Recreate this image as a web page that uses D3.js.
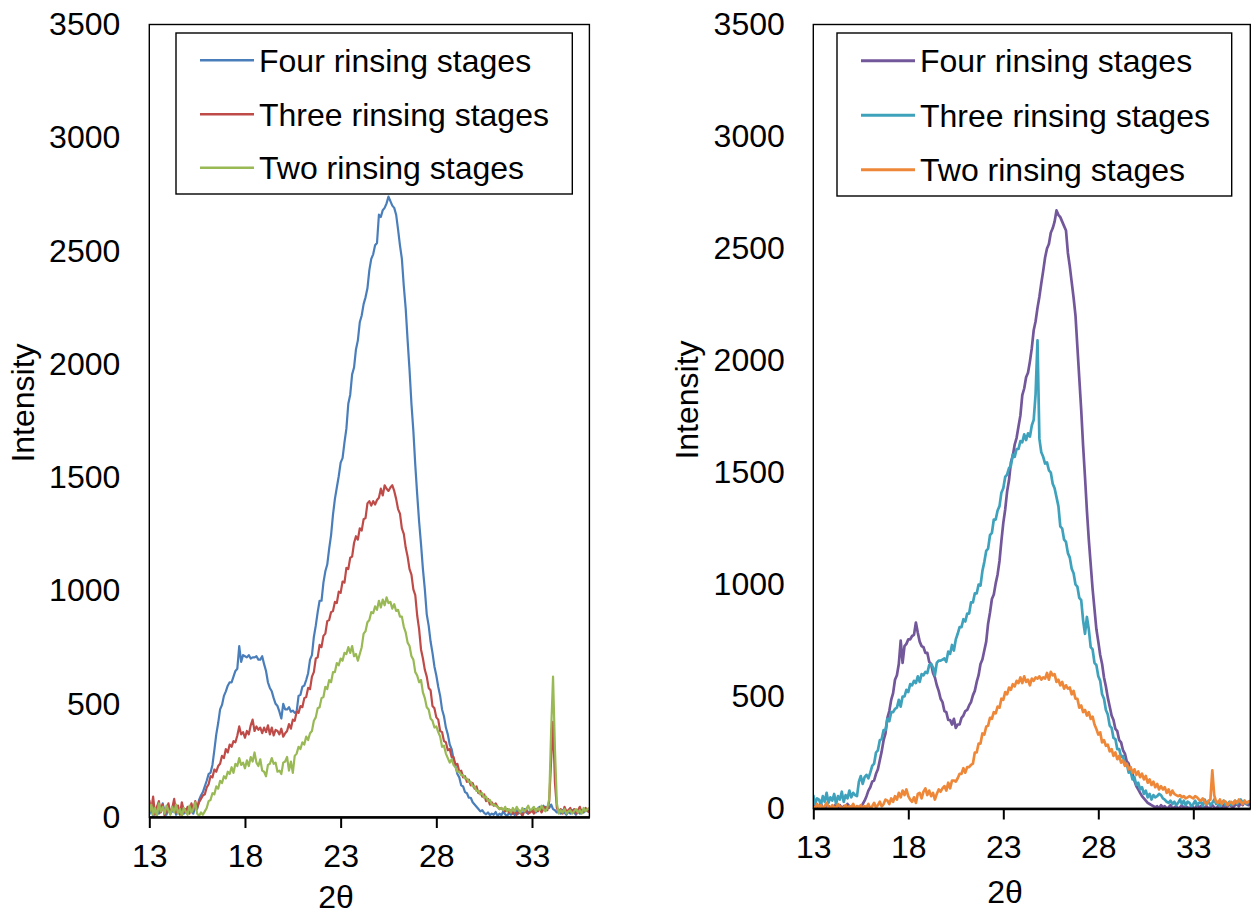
<!DOCTYPE html>
<html>
<head>
<meta charset="utf-8">
<script src="https://cdn.jsdelivr.net/npm/d3@7"></script>
<style>
  html, body { margin: 0; padding: 0; background: #fff; }
  svg { display: block; }
  text { font-family: "Liberation Sans", Arial, sans-serif; fill: #000; }
</style>
</head>
<body>
<svg id="chart" width="1252" height="915"></svg>
<script>
// Diffraction scans sampled every 0.1° of 2θ, from 13° to 36°
const thetaStart = 13;
const thetaStep = 0.1;

const xTicks = [13, 18, 23, 28, 33];
const yTicks = [0, 500, 1000, 1500, 2000, 2500, 3000, 3500];
const seriesNames = ["Four rinsing stages", "Three rinsing stages", "Two rinsing stages"];

// Left panel
const leftFour = [
  10, 35, 5, 20, 45, 15, 30, 60, 20, 10,
  40, 15, 25, 55, 10, 30, 20, 45, 15, 35,
  20, 40, 30, 15, 45, 35, 75, 95, 110, 135,
  160, 190, 195, 230, 295, 365, 415, 475, 495, 535,
  555, 580, 595, 595, 620, 645, 655, 755, 685, 715,
  710, 705, 715, 700, 705, 705, 710, 695, 695, 710,
  675, 645, 595, 570, 555, 525, 500, 490, 465, 435,
  500, 475, 475, 485, 465, 470, 460, 465, 535, 540,
  575, 580, 605, 635, 695, 715, 795, 845, 905, 955,
  955, 1035, 1085, 1115, 1185, 1245, 1335, 1405, 1455, 1505,
  1565, 1585, 1655, 1715, 1825, 1865, 1955, 1985, 2065, 2105,
  2185, 2215, 2265, 2295, 2335, 2415, 2465, 2485, 2525, 2535,
  2660, 2650, 2680, 2690, 2710, 2740, 2720, 2700, 2690, 2660,
  2595, 2525, 2465, 2345, 2245, 2105, 1975, 1825, 1705, 1555,
  1425, 1305, 1205, 1095, 1005, 895, 845, 775, 725, 665,
  625, 575, 535, 475, 445, 395, 365, 320, 300, 255,
  225, 190, 175, 140, 135, 110, 105, 85, 85, 65,
  55, 45, 35, 25, 30, 18, 12, 20, 8, 15,
  10, 22, 5, 15, 8, 25, 12, 5, 18, 10,
  20, 8, 30, 15, 25, 10, 35, 20, 15, 30,
  25, 40, 20, 35, 45, 30, 50, 35, 45, 40,
  55, 35, 30, 20, 25, 15, 30, 20, 10, 25,
  15, 30, 20, 10, 25, 15, 30, 20, 35, 25,
  30
];
const leftThree = [
  75, 30, 90, 10, 45, 70, 20, 55, 5, 35,
  60, 15, 40, 80, 20, 50, 10, 65, 30, 20,
  45, 15, 60, 30, 70, 40, 65, 80, 95, 100,
  130, 145, 180, 175, 210, 200, 225, 235, 270, 260,
  300, 285, 320, 310, 335, 330, 360, 400, 365, 375,
  350, 380, 365, 405, 430, 380, 400, 385, 395, 370,
  395, 375, 405, 365, 395, 360, 385, 380, 365, 390,
  355, 370, 380, 410, 390, 430, 425, 465, 460, 490,
  485, 525, 530, 570, 565, 620, 640, 700, 705, 760,
  750, 800, 810, 865, 870, 905, 910, 950, 945, 995,
  990, 1040, 1035, 1100, 1095, 1145, 1150, 1210, 1240, 1225,
  1275, 1265, 1315, 1320, 1385, 1395, 1375, 1395, 1380, 1400,
  1410, 1450, 1420, 1465, 1450, 1440, 1455, 1465, 1440, 1405,
  1360, 1340, 1275, 1250, 1190, 1150, 1095, 1070, 1005, 980,
  890, 830, 740, 700, 650, 620, 570, 560, 490, 480,
  440, 430, 380, 375, 335, 330, 295, 300, 265, 265,
  230, 235, 200, 205, 175, 180, 155, 165, 140, 150,
  125, 135, 105, 115, 90, 100, 70, 80, 55, 65,
  50, 60, 45, 35, 40, 30, 25, 35, 20, 30,
  15, 25, 10, 30, 20, 5, 25, 35, 15, 20,
  30, 15, 35, 25, 40, 20, 35, 45, 30, 70,
  250, 420, 150, 40, 20, 35, 15, 45, 25, 30,
  40, 20, 35, 15, 30, 45, 20, 25, 40, 30,
  20
];
const leftTwo = [
  20, 55, 10, 40, 5, 60, 25, 45, 15, 50,
  30, 10, 45, 20, 55, 15, 35, 5, 40, 25,
  10, 50, 20, 35, 65, 15, 5, 20, 10, 25,
  40, 70, 75, 105, 100, 135, 125, 160, 150, 180,
  170, 200, 190, 220, 195, 235, 225, 260, 230, 240,
  215, 250, 225, 265, 245, 285, 240, 225, 255, 205,
  200, 180, 230, 235, 260, 235, 240, 200, 205, 190,
  240, 245, 265, 205, 245, 195, 270, 280, 310, 300,
  330, 320, 355, 340, 370, 380, 425, 440, 480, 485,
  525, 530, 575, 565, 605, 595, 640, 640, 680, 670,
  700, 690, 725, 720, 750, 725, 755, 710, 720, 690,
  720, 750, 810, 820, 860, 870, 905, 900, 930, 915,
  955, 925, 960, 935, 970, 945, 950, 920, 940, 910,
  915, 885, 885, 840, 815, 770, 755, 710, 695, 640,
  625, 595, 605, 550, 525, 485, 475, 435, 425, 395,
  400, 375, 355, 310, 315, 280, 260, 240, 255, 230,
  220, 200, 200, 185, 185, 170, 170, 155, 155, 135,
  135, 115, 115, 100, 105, 85, 90, 70, 75, 55,
  55, 50, 45, 35, 40, 30, 45, 25, 35, 20,
  40, 25, 45, 30, 20, 40, 25, 35, 50, 30,
  35, 45, 25, 40, 30, 50, 35, 25, 40, 80,
  380, 620, 300, 60, 15, 30, 20, 35, 15, 25,
  30, 15, 25, 35, 20, 30, 15, 40, 25, 35,
  40
];

// Right panel
const rightFour = [
  5, 15, 0, 10, 20, 5, 0, 15, 10, 5,
  0, 10, 20, 5, 15, 0, 10, 5, 20, 10,
  5, 15, 0, 10, 5, 0, 20, 35, 55, 80,
  95, 120, 125, 155, 175, 215, 255, 305, 335, 405,
  435, 485, 515, 575, 595, 645, 750, 650, 725, 735,
  755, 755, 770, 775, 830, 785, 745, 725, 720, 695,
  695, 655, 645, 605, 585, 550, 525, 490, 475, 435,
  430, 395, 395, 375, 400, 360, 375, 375, 405, 415,
  435, 440, 460, 475, 505, 525, 565, 595, 645, 665,
  705, 745, 825, 875, 935, 955, 1005, 1045, 1105, 1195,
  1275, 1335, 1415, 1465, 1545, 1575, 1625, 1655, 1705, 1755,
  1845, 1875, 1925, 1945, 1995, 2055, 2135, 2175, 2235, 2285,
  2345, 2400, 2460, 2500, 2520, 2570, 2590, 2620, 2670, 2650,
  2640, 2620, 2600, 2580, 2480, 2420, 2350, 2280, 2200, 2060,
  1920, 1780, 1620, 1480, 1330, 1200, 1090, 980, 890, 800,
  745, 685, 645, 585, 545, 495, 455, 415, 395, 355,
  345, 305, 295, 260, 245, 210, 200, 165, 155, 125,
  100, 85, 70, 55, 45, 35, 25, 20, 15, 10,
  5, 10, 0, 15, 5, 10, 0, 5, 15, 0,
  5, 10, 0, 5, 15, 0, 10, 5, 0, 10,
  5, 0, 15, 5, 10, 0, 5, 10, 0, 5,
  15, 5, 0, 10, 5, 0, 15, 5, 10, 20,
  10, 5, 15, 20, 10, 25, 15, 30, 20, 15,
  25
];
const rightThree = [
  60, 20, 45, 40, 15, 55, 30, 70, 25, 50,
  35, 65, 20, 55, 40, 75, 30, 60, 45, 80,
  50, 70, 60, 55, 120, 145, 110, 140, 150, 135,
  160, 190, 200, 250, 260, 305, 310, 350, 350, 400,
  390, 430, 430, 445, 450, 485, 455, 500, 500, 530,
  520, 555, 550, 570, 560, 590, 565, 600, 595, 610,
  605, 640, 645, 630, 595, 650, 660, 660, 665, 670,
  655, 700, 690, 730, 705, 755, 780, 810, 810, 845,
  835, 870, 870, 920, 920, 960, 960, 1000, 995, 1060,
  1100, 1150, 1160, 1220, 1230, 1290, 1290, 1330, 1350, 1410,
  1430, 1480, 1490, 1520, 1530, 1580, 1570, 1605, 1605, 1640,
  1635, 1670, 1645, 1675, 1660, 1710, 1735, 1850, 2090, 1650,
  1590, 1570, 1540, 1545, 1510, 1500, 1450, 1430, 1390, 1350,
  1260, 1250, 1200, 1190, 1140, 1120, 1070, 1050, 1000, 990,
  940, 930, 840, 780, 855, 800, 720, 710, 650, 640,
  590, 570, 510, 490, 440, 420, 370, 360, 315, 310,
  265, 265, 230, 235, 195, 200, 160, 165, 130, 140,
  105, 115, 85, 95, 65, 80, 50, 65, 40, 60,
  50, 55, 65, 60, 45, 40, 30, 25, 35, 20,
  30, 15, 25, 40, 20, 35, 15, 30, 25, 10,
  20, 35, 15, 25, 30, 10, 40, 20, 30, 15,
  25, 40, 20, 30, 10, 25, 35, 15, 20, 30,
  15, 25, 35, 20, 30, 40, 25, 35, 20, 30,
  25
];
const rightTwo = [
  10, 0, 20, 5, 15, 0, 10, 25, 5, 0,
  15, 5, 0, 20, 10, 0, 5, 15, 0, 10,
  5, 20, 0, 10, 5, 15, 0, 10, 5, 20,
  0, 10, 25, 5, 15, 30, 10, 20, 40, 35,
  20, 45, 30, 55, 40, 70, 50, 80, 60, 85,
  55, 40, 30, 50, 25, 65, 70, 45, 75, 90,
  60, 80, 55, 70, 40, 65, 85, 75, 90, 100,
  80, 115, 90, 125, 125, 120, 135, 155, 155, 180,
  160, 185, 185, 195, 200, 250, 250, 290, 290, 335,
  330, 365, 370, 405, 400, 430, 425, 455, 450, 490,
  485, 520, 510, 540, 530, 555, 545, 570, 560, 585,
  560, 590, 565, 575, 550, 580, 570, 585, 580, 590,
  575, 585, 580, 605, 575, 610, 595, 600, 565, 575,
  550, 565, 535, 550, 535, 540, 510, 525, 490, 490,
  450, 460, 430, 440, 415, 430, 400, 410, 375, 355,
  330, 340, 295, 305, 280, 285, 255, 265, 235, 250,
  220, 235, 205, 215, 190, 200, 175, 185, 160, 175,
  150, 165, 140, 155, 130, 145, 115, 130, 105, 120,
  95, 110, 85, 100, 85, 95, 70, 85, 60, 80,
  65, 60, 55, 60, 50, 55, 45, 50, 55, 50,
  45, 55, 50, 40, 35, 45, 30, 20, 35, 40,
  170, 60, 30, 25, 40, 20, 35, 30, 15, 25,
  30, 20, 35, 25, 40, 30, 20, 35, 25, 30,
  35
];

const panels = [
  {
    left: 149.3, right: 589.4, top: 24.5, bottom: 817,
    colors: ["#4A7EBB", "#BE4B48", "#98B954"],
    values: [leftFour, leftThree, leftTwo],
    lineWidth: 2.2,
    labelPad: 16.7,
    yPad: 29,
    titleX: 336, titleY: 908,
    yTitleX: 34, yTitleY: 403,
    legend: { x: 176, y: 33, w: 396.3, h: 161, rows: [60.3, 114.3, 167.7] }
  },
  {
    left: 813.3, right: 1250.3, top: 24.5, bottom: 808.5,
    colors: ["#73579B", "#3FA2BC", "#EE8838"],
    values: [rightFour, rightThree, rightTwo],
    lineWidth: 2.7,
    labelPad: 15.5,
    yPad: 28.5,
    titleX: 1005, titleY: 903,
    yTitleX: 698, yTitleY: 400,
    legend: { x: 837, y: 33, w: 394.7, h: 163, rows: [60.7, 115.3, 169.7] }
  }
];

const svg = d3.select("#chart");
const fontSize = 32;

panels.forEach((p, pi) => {
  const x = d3.scaleLinear().domain([13, 36]).range([p.left, p.right]);
  const y = d3.scaleLinear().domain([0, 3500]).range([p.bottom, p.top]);
  const g = svg.append("g");

  const clipId = "plot-clip-" + pi;
  g.append("clipPath").attr("id", clipId)
    .append("rect")
    .attr("x", p.left).attr("y", p.top)
    .attr("width", p.right - p.left).attr("height", p.bottom - p.top + 2);

  // Traces
  const line = d3.line()
    .x((d, i) => x(thetaStart + i * thetaStep))
    .y(d => y(d));

  const traces = g.append("g").attr("clip-path", `url(#${clipId})`);
  p.values.forEach((vals, si) => {
    traces.append("path")
      .datum(vals)
      .attr("d", line)
      .attr("fill", "none")
      .attr("stroke", p.colors[si])
      .attr("stroke-width", p.lineWidth)
      .attr("stroke-linejoin", "round");
  });

  // Plot frame
  g.append("rect")
    .attr("x", p.left).attr("y", p.top)
    .attr("width", p.right - p.left).attr("height", p.bottom - p.top)
    .attr("fill", "none").attr("stroke", "#000").attr("stroke-width", 1.4);

  // Horizontal axis
  const xAxis = g.append("g")
    .attr("transform", `translate(0,${p.bottom})`)
    .call(d3.axisBottom(x).tickValues(xTicks).tickFormat(d3.format("d"))
      .tickSize(11).tickSizeOuter(0).tickPadding(p.labelPad));
  xAxis.select(".domain").attr("stroke", "#000").attr("stroke-width", 2.4);
  xAxis.selectAll(".tick line").attr("stroke", "#000").attr("stroke-width", 2);
  xAxis.selectAll(".tick text")
    .attr("font-size", fontSize)
    .style("font-family", '"Liberation Sans", Arial, sans-serif')
    .attr("fill", "#000");

  // Vertical axis (labels only)
  const yAxis = g.append("g")
    .attr("transform", `translate(${p.left},0)`)
    .call(d3.axisLeft(y).tickValues(yTicks).tickFormat(d3.format("d"))
      .tickSize(0).tickPadding(p.yPad));
  yAxis.select(".domain").remove();
  yAxis.selectAll(".tick text")
    .attr("font-size", fontSize)
    .style("font-family", '"Liberation Sans", Arial, sans-serif')
    .attr("fill", "#000");

  // Axis titles
  g.append("text")
    .attr("x", p.titleX).attr("y", p.titleY)
    .attr("text-anchor", "middle")
    .attr("font-size", fontSize)
    .text("2θ");
  g.append("text")
    .attr("transform", `translate(${p.yTitleX},${p.yTitleY}) rotate(-90)`)
    .attr("text-anchor", "middle")
    .attr("font-size", fontSize)
    .text("Intensity");

  // Legend
  const lg = g.append("g");
  lg.append("rect")
    .attr("x", p.legend.x).attr("y", p.legend.y)
    .attr("width", p.legend.w).attr("height", p.legend.h)
    .attr("fill", "#fff").attr("stroke", "#000").attr("stroke-width", 1.4);
  seriesNames.forEach((name, si) => {
    const ry = p.legend.rows[si];
    lg.append("line")
      .attr("x1", p.legend.x + 24).attr("x2", p.legend.x + 78)
      .attr("y1", ry).attr("y2", ry)
      .attr("stroke", p.colors[si]).attr("stroke-width", p.lineWidth + 0.3);
    lg.append("text")
      .attr("x", p.legend.x + 83).attr("y", ry)
      .attr("dy", "0.35em")
      .attr("font-size", fontSize)
      .text(name);
  });
});
</script>
</body>
</html>
